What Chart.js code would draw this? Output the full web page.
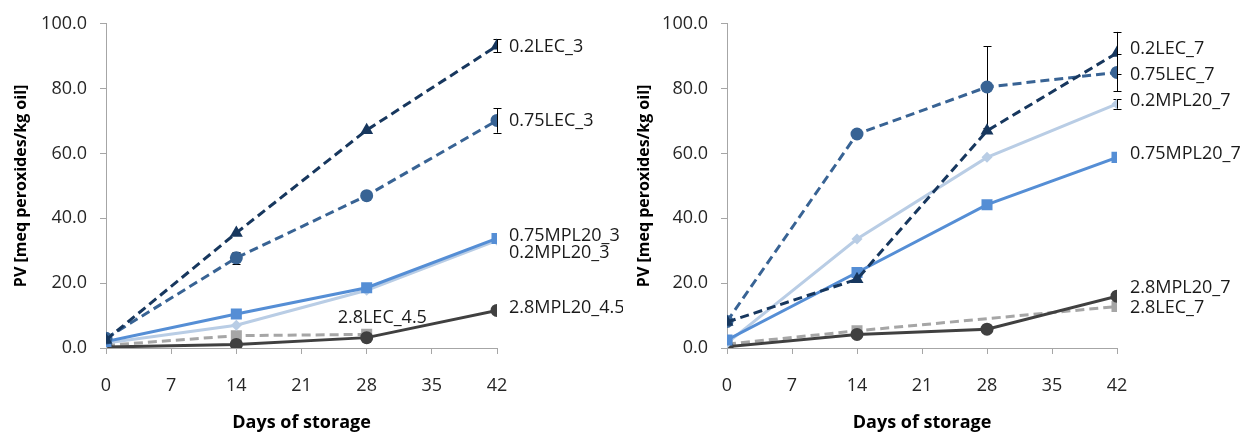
<!DOCTYPE html>
<html>
<head>
<meta charset="utf-8">
<script src="https://cdn.jsdelivr.net/npm/chart.js@4/dist/chart.umd.min.js"></script>
<style>
  html, body { margin: 0; padding: 0; background: #ffffff; }
  #wrap { position: relative; width: 1247px; height: 432px; overflow: hidden; }
  .panel { position: absolute; top: 0; height: 432px; }
  #p1 { left: 0; width: 623px; }
  #p2 { left: 623px; width: 624px; }
</style>
</head>
<body>
<div id="wrap">
  <div class="panel" id="p1"><canvas id="c1" width="623" height="432"></canvas></div>
  <div class="panel" id="p2"><canvas id="c2" width="624" height="432"></canvas></div>
</div>
<script>
// ---- Data ----
const days = [0, 14, 28, 42];

// Left panel
const leftNames = ['0.2LEC_3', '0.75LEC_3', '0.75MPL20_3', '0.2MPL20_3', '2.8LEC_4.5', '2.8MPL20_4.5'];
const lec02_3      = [2.5, 35.5, 67.2, 93.2];
const lec02_3Err   = [0, 0, 0, 2.0];
const lec075_3     = [3.0, 27.8, 47.0, 70.2];
const lec075_3Err  = [0, 1.8, 0, 3.8];
const mpl075_3     = [2.0, 10.5, 18.6, 33.8];
const mpl02_3      = [1.5, 7.0, 17.8, 33.2];
const lec28_45     = [0.8, 3.8, 4.2, null];
const mpl28_45     = [0.3, 1.1, 3.2, 11.6];

// Right panel
const rightNames = ['0.2LEC_7', '0.75LEC_7', '0.2MPL20_7', '0.75MPL20_7', '2.8MPL20_7', '2.8LEC_7'];
const lec02_7      = [8.0, 21.2, 67.0, 91.0];
const lec02_7Err   = [0, 0, 0, 6.5];
const lec075_7     = [8.2, 66.0, 80.5, 85.0];
const lec075_7Err  = [0, 0, 12.6, 5.8];
const mpl02_7      = [1.5, 33.6, 58.8, 75.3];
const mpl02_7Err   = [0, 0, 0, 1.5];
const mpl075_7     = [2.5, 23.3, 44.2, 58.8];
const mpl28_7      = [0.4, 4.2, 5.8, 16.0];
const lec28_7      = [1.2, 5.3, null, 12.8];

const xTickStep = 7;
const yTickStep = 20;
const yTitle = 'PV [meq peroxides/kg oil]';
const xTitle = 'Days of storage';

// ---- Styles ----
const FONT = "'Open Sans', 'Noto Sans', sans-serif";
const C_NAVY = '#17375E', C_MID = '#386394', C_BLUE = '#558ED5', C_LIGHT = '#B9CDE5', C_GRAY = '#A6A6A6', C_DARK = '#404040';

function ds(label, data, color, dashed, style, radius, errors, lab) {
  return {
    label, data: data.map((v, i) => ({x: days[i], y: v})),
    borderColor: color, backgroundColor: color,
    borderWidth: 3, borderDash: dashed ? [9, 5] : [],
    pointStyle: style, pointRadius: radius, pointHoverRadius: radius,
    pointBorderWidth: 0, tension: 0, spanGaps: true,
    errors: errors || null, lab: lab
  };
}

const errorBars = {
  id: 'errorBars',
  beforeDatasetsDraw(chart) {
    const ctx = chart.ctx, y = chart.scales.y;
    ctx.save();
    ctx.strokeStyle = '#000'; ctx.lineWidth = 1;
    chart.data.datasets.forEach((d, di) => {
      if (!d.errors) return;
      const meta = chart.getDatasetMeta(di);
      d.errors.forEach((e, i) => {
        if (!e || d.data[i].y == null) return;
        const px = Math.round(meta.data[i].x) + 0.5;
        const top = y.getPixelForValue(d.data[i].y + e), bot = y.getPixelForValue(d.data[i].y - e);
        ctx.beginPath();
        ctx.moveTo(px, top); ctx.lineTo(px, bot);
        ctx.moveTo(px - 4, Math.round(top) + 0.5); ctx.lineTo(px + 4, Math.round(top) + 0.5);
        ctx.moveTo(px - 4, Math.round(bot) + 0.5); ctx.lineTo(px + 4, Math.round(bot) + 0.5);
        ctx.stroke();
      });
    });
    ctx.restore();
  }
};

const endLabels = {
  id: 'endLabels',
  afterDatasetsDraw(chart) {
    const ctx = chart.ctx;
    ctx.save();
    ctx.font = '18px ' + FONT;
    ctx.fillStyle = '#1a1a1a';
    ctx.textBaseline = 'middle';
    ctx.textAlign = 'left';
    chart.data.datasets.forEach((d, di) => {
      const meta = chart.getDatasetMeta(di);
      let last = -1;
      d.data.forEach((p, i) => { if (p.y != null) last = i; });
      const el = meta.data[last];
      ctx.fillText(d.label, el.x + d.lab[0], el.y + d.lab[1]);
    });
    ctx.restore();
  }
};

function makeOptions(padRight, yWidth) {
  return {
    responsive: false, animation: false, events: [],
    layout: { padding: { left: 0, right: padRight, top: 19, bottom: 0 } },
    plugins: { legend: { display: false }, tooltip: { enabled: false } },
    scales: {
      x: {
        type: 'linear', min: 0, max: 42,
        ticks: { stepSize: xTickStep, color: '#262626', font: { family: FONT, size: 18 }, padding: 21 },
        grid: { drawOnChartArea: false, drawTicks: true, tickLength: 6, color: '#A6A6A6' },
        border: { color: '#A6A6A6', width: 1 },
        title: { display: true, text: xTitle, color: '#000', font: { family: FONT, size: 18, weight: 'bold' }, padding: { top: 0, bottom: -2 } },
        afterFit(s) { s.height = 84; }
      },
      y: {
        min: 0, max: 100,
        ticks: { stepSize: yTickStep, color: '#262626', font: { family: FONT, size: 18 }, padding: 13, callback: v => Number(v).toFixed(1) },
        grid: { drawOnChartArea: false, drawTicks: true, tickLength: 6, color: '#A6A6A6' },
        border: { color: '#A6A6A6', width: 1 },
        title: { display: true, text: yTitle, color: '#000', font: { family: FONT, size: 16, weight: 'bold' }, padding: { top: 12, bottom: 0 } },
        afterFit(s) { s.width = yWidth; }
      }
    }
  };
}

new Chart(document.getElementById('c1'), {
  type: 'line',
  data: { datasets: [
    ds(leftNames[0], lec02_3, C_NAVY, true, 'triangle', 7.5, lec02_3Err, [12, 1]),
    ds(leftNames[1], lec075_3, C_MID, true, 'circle', 6.5, lec075_3Err, [12, 0]),
    ds(leftNames[2], mpl075_3, C_BLUE, false, 'rect', 7.8, null, [12, -3]),
    ds(leftNames[3], mpl02_3, C_LIGHT, false, 'rectRot', 5.5, null, [12, 13]),
    ds(leftNames[5], mpl28_45, C_DARK, false, 'circle', 6.5, null, [12, -3]),
    ds(leftNames[4], lec28_45, C_GRAY, true, 'rect', 7.8, null, [-29, -17])
  ]},
  options: makeOptions(126, 106),
  plugins: [errorBars, endLabels]
});

new Chart(document.getElementById('c2'), {
  type: 'line',
  data: { datasets: [
    ds(rightNames[0], lec02_7, C_NAVY, true, 'triangle', 7.5, lec02_7Err, [13, -4]),
    ds(rightNames[1], lec075_7, C_MID, true, 'circle', 6.5, lec075_7Err, [13, 2]),
    ds(rightNames[3], mpl075_7, C_BLUE, false, 'rect', 7.8, null, [13, -3]),
    ds(rightNames[2], mpl02_7, C_LIGHT, false, 'rectRot', 5.5, mpl02_7Err, [13, -3]),
    ds(rightNames[4], mpl28_7, C_DARK, false, 'circle', 6.5, null, [13, -8]),
    ds(rightNames[5], lec28_7, C_GRAY, true, 'rect', 7.8, null, [13, 1])
  ]},
  options: makeOptions(130, 104),
  plugins: [errorBars, endLabels]
});
</script>
</body>
</html>
